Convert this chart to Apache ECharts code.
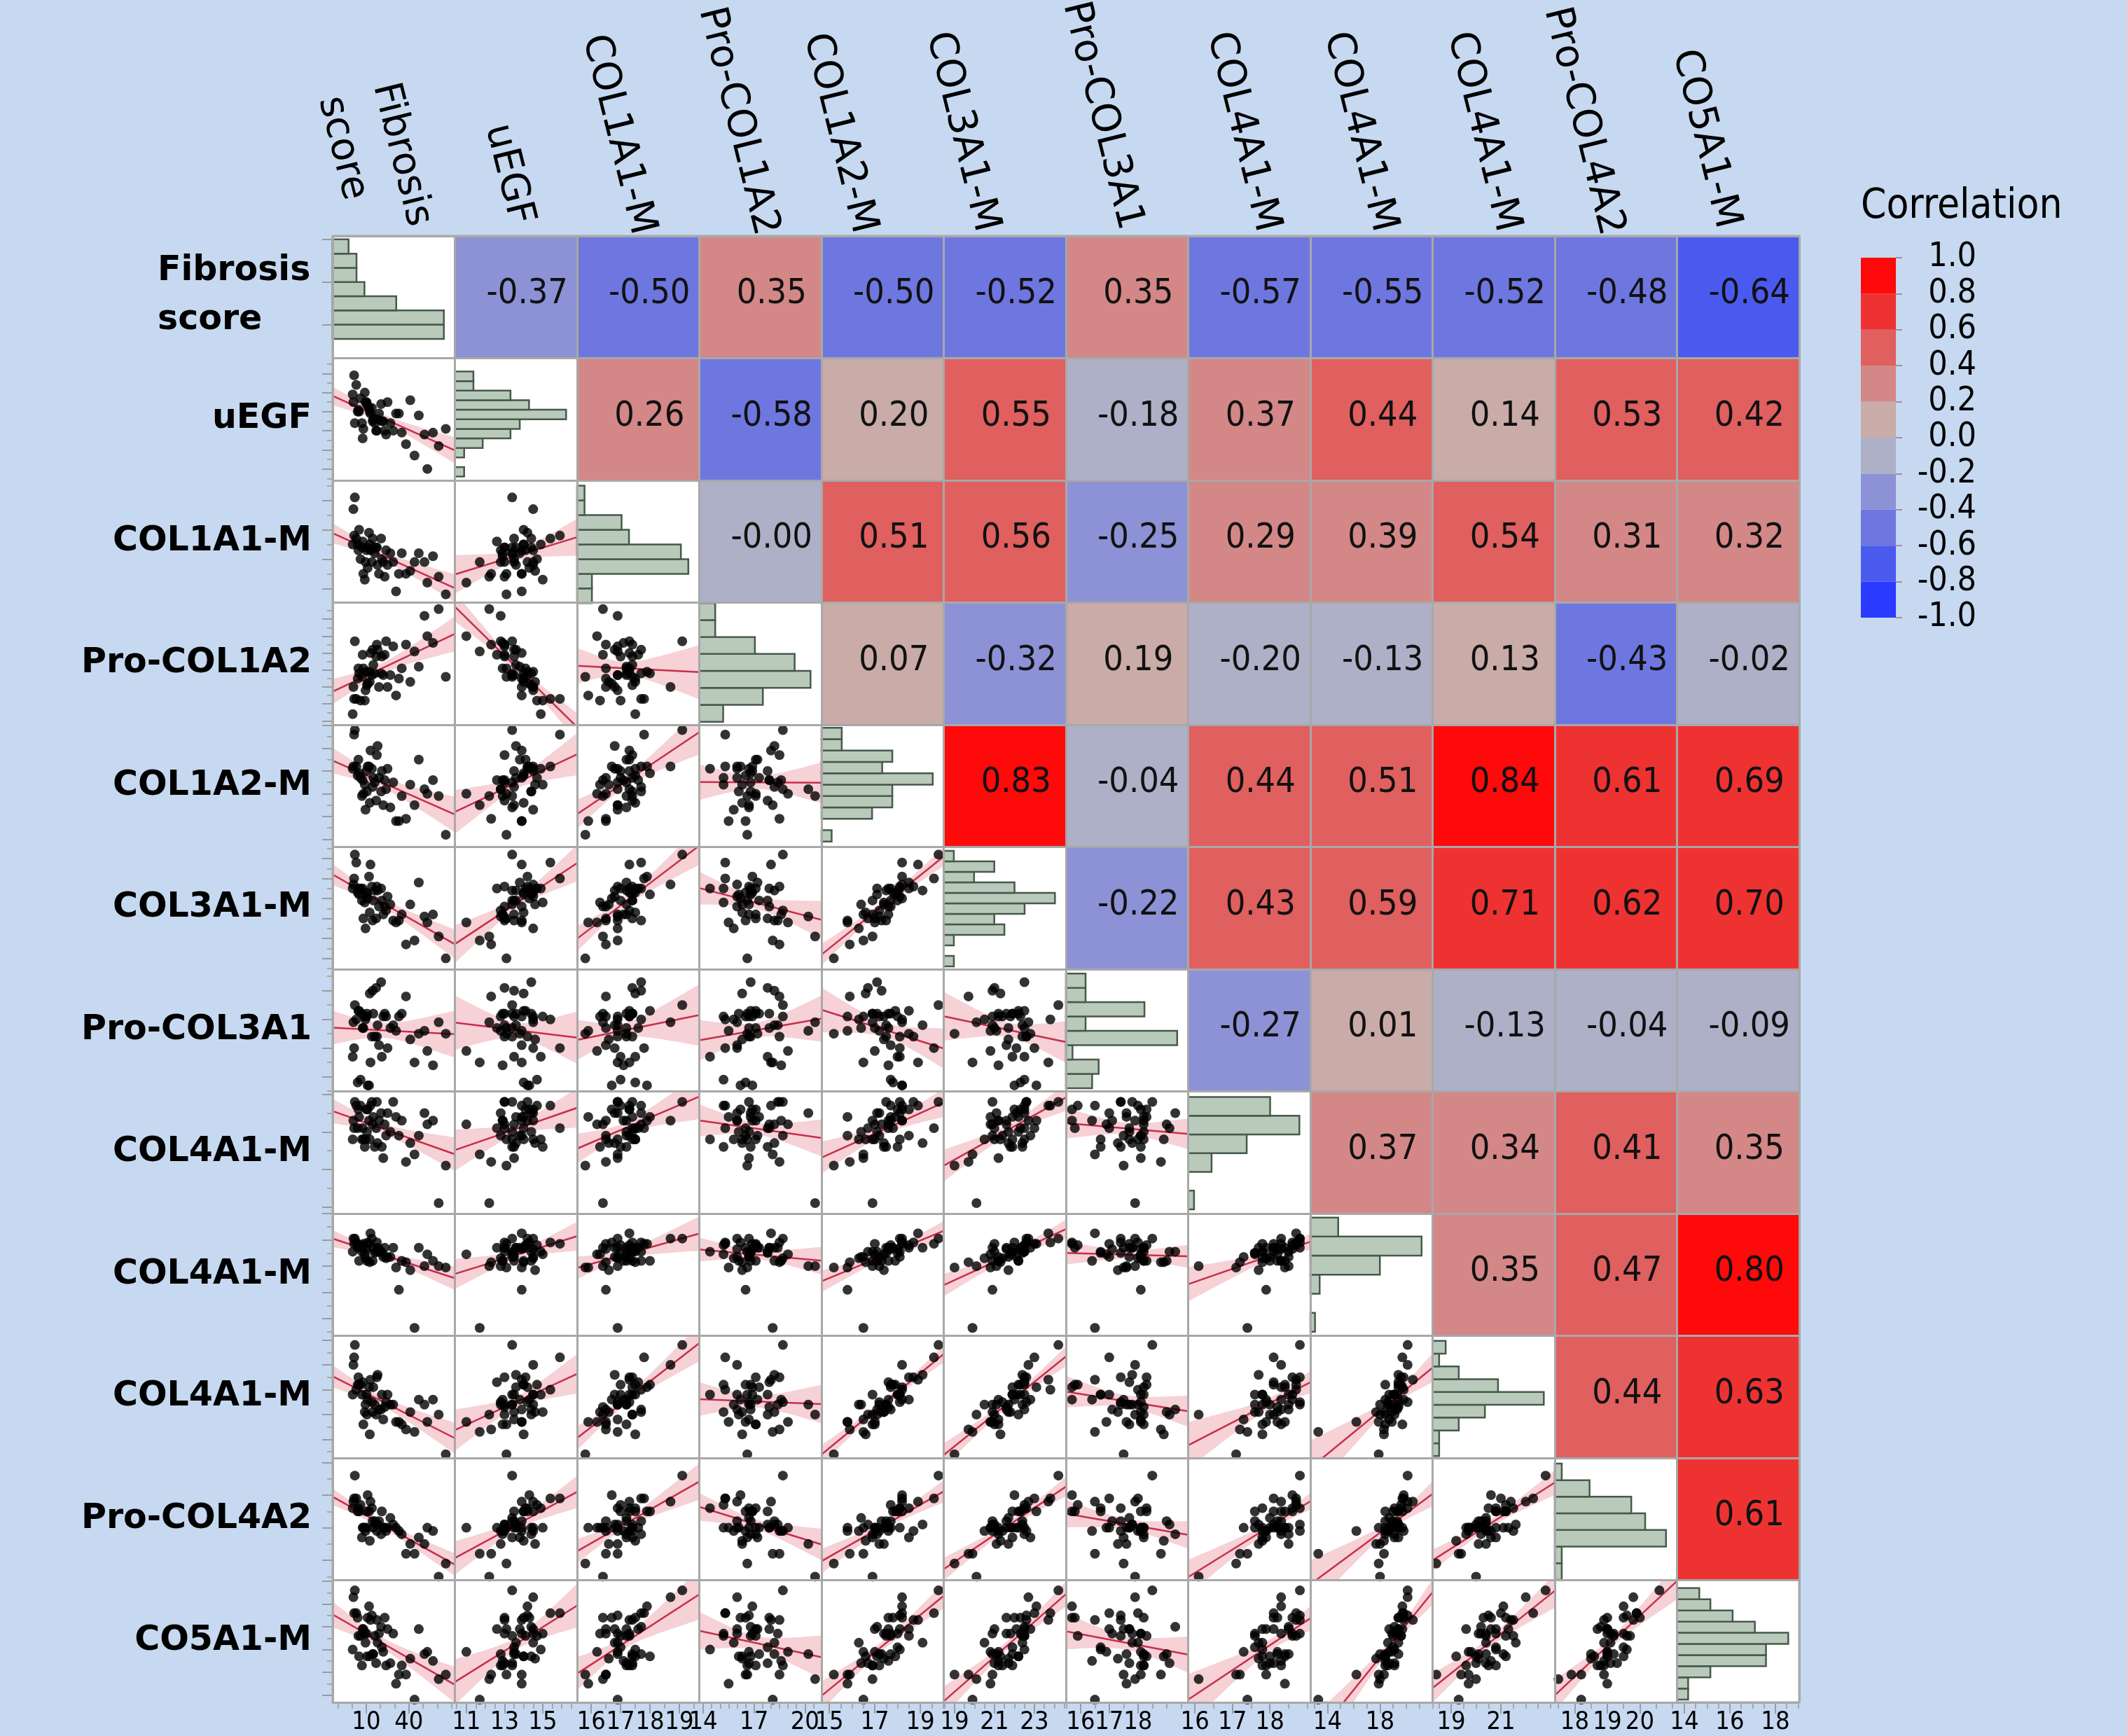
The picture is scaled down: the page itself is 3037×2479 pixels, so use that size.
<!DOCTYPE html>
<html>
<head>
<meta charset="utf-8">
<title>Scatterplot matrix</title>
<script src="https://cdn.jsdelivr.net/npm/echarts@6/dist/echarts.min.js"></script>
<style>
html, body { margin: 0; padding: 0; background: #c6d9f0; }
#chart { width: 3037px; height: 2479px; }
</style>
</head>
<body>
<div id="chart"></div>
<script>
var names = ['Fibrosis score', 'uEGF', 'COL1A1-M', 'Pro-COL1A2', 'COL1A2-M', 'COL3A1-M',
	'Pro-COL3A1', 'COL4A1-M', 'COL4A1-M', 'COL4A1-M', 'Pro-COL4A2', 'CO5A1-M'];

// one value per patient, same patient order in every list
var fibrosis = [66, 38, 31, 44, 33, 12.5, 61, 22, 53, 9.5, 35, 41, 17, 51, 8, 27, 9, 57, 10.5, 29,
	7, 19, 16, 14.5, 25, 24, 6, 23, 0.5, 20.5, 21, 15, 11, 7.5, 10.2, 47, 5, 14, 4, 4.5,
	12, 18, 3, 17.5, 1, 13, 1.5, 2];
var uegf = [13.1, 12.3, 13.9, 11.7, 13.9, 14.0, 12.2, 13.5, 11.0, 14.5, 12.9, 14.6, 13.0, 12.8, 13.1, 13.4, 15.0, 12.9, 14.4, 13.0,
	13.4, 13.9, 13.4, 13.5, 14.5, 12.8, 14.7, 13.0, 14.9, 14.4, 13.5, 13.6, 14.3, 12.6, 14.5, 13.8, 14.0, 14.2, 14.0, 14.1,
	14.2, 13.6, 15.4, 13.0, 14.5, 13.9, 15.9, 13.4];
var col1a1 = [15.8, 16.5, 15.9, 16.9, 16.5, 17.5, 16.4, 16.9, 16.2, 16.9, 17.2, 16.6, 17.4, 16.9, 16.5, 17.2, 16.3, 17.1, 17.4, 16.9,
	17.4, 16.5, 17.2, 17.7, 16.8, 17.3, 17.0, 16.4, 17.5, 17.7, 17.0, 17.4, 16.7, 17.6, 17.3, 17.2, 18.0, 16.9, 17.5, 17.3,
	17.9, 16.8, 17.7, 17.4, 18.7, 17.3, 17.8, 19.1];
var procol1a2 = [16.6, 18.5, 15.5, 18.1, 16.5, 16.3, 20.6, 16.7, 19.0, 15.8, 17.1, 16.3, 17.8, 20.2, 17.1, 16.7, 15.2, 18.6, 16.1, 18.4,
	16.6, 16.0, 16.8, 18.2, 16.0, 18.7, 15.2, 17.9, 14.4, 16.8, 17.8, 17.3, 16.2, 17.9, 16.9, 17.2, 16.8, 16.7, 16.5, 17.1,
	16.9, 18.2, 15.3, 18.5, 16.0, 18.0, 15.3, 18.7];
var col1a2 = [15.2, 15.9, 15.8, 16.5, 15.8, 16.6, 16.9, 16.5, 17.0, 16.3, 16.9, 17.4, 16.7, 17.2, 17.0, 16.4, 17.4, 17.6, 17.1, 17.5,
	16.9, 17.7, 17.5, 17.3, 18.1, 17.2, 17.7, 17.6, 18.1, 17.1, 18.0, 17.7, 18.2, 17.6, 18.0, 18.5, 17.9, 18.1, 17.8, 18.5,
	18.2, 19.1, 18.2, 18.7, 18.2, 18.9, 19.6, 19.8];
var col3a1 = [19.0, 19.7, 20.8, 19.9, 20.9, 21.3, 20.1, 21.2, 20.8, 20.5, 21.2, 21.7, 21.0, 21.1, 21.0, 21.7, 21.8, 21.2, 22.2, 20.9,
	21.9, 21.6, 22.4, 20.9, 22.1, 21.4, 22.5, 21.6, 22.5, 22.5, 21.9, 21.9, 22.0, 22.5, 22.3, 22.8, 22.2, 22.6, 22.3, 22.5,
	23.1, 22.4, 23.8, 22.6, 22.7, 23.7, 23.0, 24.2];
var procol3a1 = [17.5, 18.8, 17.6, 16.5, 18.1, 18.9, 17.9, 18.1, 16.9, 18.0, 18.2, 17.3, 19.1, 17.6, 17.7, 17.7, 18.1, 16.4, 18.2, 17.8,
	18.2, 17.1, 17.4, 19.0, 17.0, 18.1, 15.9, 18.2, 16.7, 19.3, 16.7, 18.2, 15.7, 17.7, 18.1, 17.5, 18.3, 17.4, 15.8, 18.3,
	15.7, 17.8, 18.0, 17.4, 17.9, 16.5, 17.0, 18.5];
var col4a1a = [17.1, 17.2, 18.4, 17.4, 17.9, 17.8, 16.1, 17.3, 18.2, 17.8, 18.3, 17.7, 18.1, 18.5, 17.8, 18.0, 17.6, 18.3, 18.0, 18.8,
	17.8, 18.3, 17.6, 18.2, 18.5, 17.9, 18.7, 18.2, 17.8, 18.5, 17.6, 18.4, 18.6, 18.1, 18.6, 17.9, 18.4, 18.8, 18.1, 18.6,
	18.3, 17.7, 18.7, 18.8, 18.3, 18.7, 18.1, 18.8];
var col4a1b = [17.9, 18.3, 17.9, 13.3, 16.2, 18.3, 18.0, 18.7, 18.9, 18.6, 18.4, 17.7, 19.1, 18.0, 19.7, 18.7, 18.9, 18.4, 18.4, 19.4,
	19.1, 19.3, 19.0, 18.4, 18.7, 18.6, 19.6, 19.4, 19.1, 19.1, 19.0, 19.4, 19.8, 19.4, 19.3, 19.4, 18.4, 20.1, 19.4, 19.6,
	19.7, 19.4, 19.8, 19.8, 20.1, 20.5, 19.7, 20.1];
var col4a1c = [18.4, 19.4, 19.7, 19.3, 19.7, 19.2, 20.0, 19.8, 19.7, 20.4, 19.6, 20.1, 20.0, 20.4, 19.6, 20.4, 20.1, 20.6, 20.0, 20.4,
	20.8, 20.2, 20.4, 20.1, 20.8, 20.5, 21.2, 20.3, 20.8, 20.2, 20.8, 21.1, 20.6, 21.3, 20.8, 20.6, 21.2, 20.5, 21.2, 21.5,
	21.1, 21.6, 21.0, 21.5, 22.0, 21.4, 22.3, 22.8];
var procol4a2 = [17.9, 18.2, 19.0, 18.2, 18.9, 18.6, 17.5, 19.0, 19.0, 18.9, 18.8, 18.5, 19.1, 18.5, 19.0, 19.3, 19.0, 18.9, 19.0, 19.1,
	18.7, 19.2, 19.2, 19.2, 19.0, 18.9, 19.7, 19.0, 19.6, 18.8, 19.5, 19.0, 20.0, 19.0, 19.5, 18.7, 19.5, 19.6, 19.5, 19.6,
	19.5, 19.1, 19.9, 18.9, 19.8, 19.8, 19.9, 20.6];
var co5a1 = [14.9, 14.9, 14.5, 13.8, 14.9, 15.7, 14.7, 15.9, 15.9, 16.3, 15.3, 15.6, 15.4, 15.8, 16.9, 15.4, 16.7, 15.5, 15.7, 16.7,
	15.3, 16.7, 16.6, 15.8, 16.9, 15.3, 16.6, 17.4, 16.0, 17.0, 16.1, 15.8, 17.4, 16.9, 16.7, 16.9, 15.7, 17.5, 17.4, 16.6,
	17.9, 16.3, 17.6, 17.3, 18.3, 17.3, 17.6, 18.6];

// axis extent of each variable, and the labelled ticks on the bottom
var axisMin = [-13.6, 10.4, 15.52, 13.77, 14.66, 18.46, 15.49, 15.82, 12.7, 18.25, 17.39, 13.68];
var axisMax = [72.4, 16.8, 19.68, 20.98, 20.03, 24.58, 19.75, 19.08, 22.0, 23.17, 21.14, 19.05];
var tickLabels = [[10, 40], [11, 13, 15], [16, 17, 18, 19], [14, 17, 20], [15, 17, 19], [19, 21, 23],
	[16, 17, 18], [16, 17, 18], [14, 18], [19, 21], [18, 19, 20], [14, 16, 18]];
var minorStep = [10, 0.5, 0.5, 0.5, 0.5, 0.5, 0.5, 0.5, 1, 0.5, 0.5, 0.5];

// histograms on the diagonal: first bin edge, bin width, counts from the bottom up
var binStart = [0, 10.6, 15.5, 13.95, 14.9, 18.6, 15.6, 15.93, 13.0, 18.33, 17.4, 13.8];
var binWidth = [10, 0.5, 0.5, 1.0, 0.5, 0.526, 0.5, 0.5, 1.45, 0.515, 0.51, 0.49];
var binCounts = [
	[14, 14, 8, 4, 3, 3, 2],
	[1, 0, 1, 3, 6, 7, 12, 8, 6, 2, 2],
	[2, 2, 15, 14, 7, 6, 1, 1],
	[3, 8, 14, 12, 7, 2, 2],
	[1, 0, 5, 7, 7, 11, 6, 7, 2, 2],
	[1, 0, 1, 6, 5, 8, 11, 7, 3, 5, 1],
	[4, 5, 1, 17, 3, 12, 3, 3],
	[1, 0, 4, 10, 19, 14],
	[1, 0, 2, 15, 24, 6],
	[1, 1, 4, 8, 17, 10, 4, 1, 2],
	[1, 1, 16, 13, 11, 5, 1],
	[1, 1, 3, 8, 8, 10, 7, 5, 3, 2]
];

// correlations, upper triangle, row by row
var corrRows = [
	[-0.37, -0.50, 0.35, -0.50, -0.52, 0.35, -0.57, -0.55, -0.52, -0.48, -0.64],
	[0.26, -0.58, 0.198, 0.55, -0.18, 0.37, 0.44, 0.14, 0.53, 0.42],
	[-0.002, 0.51, 0.56, -0.25, 0.29, 0.39, 0.54, 0.31, 0.32],
	[0.07, -0.32, 0.19, -0.198, -0.13, 0.13, -0.43, -0.02],
	[0.83, -0.04, 0.44, 0.51, 0.84, 0.61, 0.69],
	[-0.22, 0.43, 0.59, 0.71, 0.62, 0.70],
	[-0.27, 0.01, -0.13, -0.04, -0.09],
	[0.37, 0.34, 0.41, 0.35],
	[0.35, 0.47, 0.802],
	[0.44, 0.63],
	[0.61]
];

var bandEdges = [-1, -0.8, -0.6, -0.4, -0.2, 0, 0.2, 0.4, 0.6, 0.8, 1];
var bandColors = ['#2a3aff', '#4b5aee', '#6e77e0', '#8d91d5', '#aeb0c8', '#c9aba8', '#d48787', '#e05f5f', '#ee3232', '#ff0a0a'];

var vars = [fibrosis, uegf, col1a1, procol1a2, col1a2, col3a1, procol3a1, col4a1a, col4a1b, col4a1c, procol4a2, co5a1];

var X0 = 475, Y0 = 337, CELL = 174.5, N = 12;
var COND = "'DejaVu Sans Condensed', 'Liberation Sans Narrow', 'DejaVu Sans', sans-serif";
var GRID_LINE = '#a8a8a8';
var NO_LINE = { show: false, onZero: false };

function multiples(lo, hi, st) {
	var out = [];
	for (var v = Math.ceil(lo / st - 1e-9) * st; v <= hi + 1e-9; v += st) out.push(+v.toFixed(4));
	return out;
}

function fitLine(xs, ys) {
	var n = xs.length, mx = 0, my = 0;
	xs.forEach(function (v, k) { mx += v; my += ys[k]; });
	mx /= n; my /= n;
	var sxx = 0, sxy = 0, sse = 0;
	xs.forEach(function (v, k) { sxx += (v - mx) * (v - mx); sxy += (v - mx) * (ys[k] - my); });
	var b = sxy / sxx, a = my - b * mx;
	xs.forEach(function (v, k) { var r = ys[k] - a - b * v; sse += r * r; });
	return { a: a, b: b, mx: mx, sxx: sxx, s: Math.sqrt(sse / (n - 2)), n: n };
}

var grids = [], xAxes = [], yAxes = [], series = [], graphics = [];

// big grid: white cells, borders and the heat map
grids.push({ left: X0, top: Y0, width: CELL * N, height: CELL * N, show: true,
	backgroundColor: '#fff', borderColor: GRID_LINE, borderWidth: 3 });
var catAxis = {
	gridIndex: 0, type: 'category', data: names.map(function (d, i) { return i; }), z: 20,
	axisLine: NO_LINE, axisTick: { show: false }, axisLabel: { show: false },
	splitLine: { show: true, interval: 0, lineStyle: { color: GRID_LINE, width: 3 } }
};
xAxes.push(catAxis);
yAxes.push(Object.assign({}, catAxis, { inverse: true }));

var heat = [];
corrRows.forEach(function (row, i) {
	row.forEach(function (r, m) { heat.push([i + 1 + m, i, r]); });
});
series.push({
	type: 'heatmap', xAxisIndex: 0, yAxisIndex: 0, data: heat,
	itemStyle: { borderColor: GRID_LINE, borderWidth: 1.5 },
	label: {
		show: true, fontSize: 50, fontFamily: COND, color: '#111', offset: [16, -4],
		formatter: function (p) { return p.value[2].toFixed(2); }
	}
});

// colour legend
grids.push({ left: 2657, top: 368, width: 50, height: 514 });
xAxes.push({ gridIndex: 1, type: 'category', data: ['r'], show: false });
yAxes.push({
	gridIndex: 1, type: 'value', min: -1, max: 1, interval: 0.2, position: 'right',
	axisLine: NO_LINE, splitLine: { show: false },
	axisTick: { show: true, length: 9, lineStyle: { color: '#a88aa8', width: 2 } },
	axisLabel: {
		fontSize: 48, fontFamily: COND, color: '#000', align: 'right', margin: 115,
		showMinLabel: true, showMaxLabel: true, hideOverlap: false,
		formatter: function (v) { return (Math.abs(v) < 1e-9 ? 0 : v).toFixed(1); }
	}
});
series.push({
	type: 'custom', xAxisIndex: 1, yAxisIndex: 1,
	data: bandColors.map(function (c, b) { return [0, bandEdges[b], bandEdges[b + 1], b]; }),
	encode: { x: 0, y: [1, 2] },
	renderItem: function (params, api) {
		var top = api.coord([0, api.value(2)])[1], bottom = api.coord([0, api.value(1)])[1];
		var cs = params.coordSys;
		return { type: 'rect', shape: { x: cs.x, y: top, width: cs.width, height: bottom - top },
			style: { fill: bandColors[api.value(3)] } };
	}
});

// one small grid per lower / diagonal cell
for (var i = 0; i < N; i++) {
	for (var j = 0; j <= i; j++) {
		var gi = grids.length;
		grids.push({ left: X0 + j * CELL, top: Y0 + i * CELL, width: CELL, height: CELL });
		var xi = xAxes.length, yi = yAxes.length;
		var counts = binCounts[i];
		if (i === j) {
			xAxes.push({ gridIndex: gi, type: 'value', min: 0, max: Math.max.apply(null, counts) / 0.91, show: false,
				axisLine: NO_LINE });
		} else {
			xAxes.push({ gridIndex: gi, type: 'value', min: axisMin[j], max: axisMax[j], show: false, axisLine: NO_LINE });
		}
		yAxes.push({ gridIndex: gi, type: 'value', min: axisMin[i], max: axisMax[i], show: false, axisLine: NO_LINE });

		if (i === j) {
			series.push({
				type: 'custom', xAxisIndex: xi, yAxisIndex: yi,
				data: counts.map(function (c, b) {
					return [binStart[i] + b * binWidth[i], binStart[i] + (b + 1) * binWidth[i], c];
				}),
				encode: { x: 2, y: [0, 1] },
				renderItem: function (params, api) {
					if (!api.value(2)) return null;
					var p0 = api.coord([0, api.value(1)]), p1 = api.coord([api.value(2), api.value(0)]);
					return { type: 'rect', shape: { x: p0[0], y: p0[1], width: p1[0] - p0[0], height: p1[1] - p0[1] },
						style: { fill: '#bacaba', stroke: '#46594b', lineWidth: 2.5 } };
				}
			});
		} else {
			var xs = vars[j], ys = vars[i];
			var f = fitLine(xs, ys), up = [], lo = [];
			for (var s = 0; s <= 40; s++) {
				var xv = axisMin[j] + (axisMax[j] - axisMin[j]) * s / 40;
				var yv = f.a + f.b * xv;
				var se = 2.013 * f.s * Math.sqrt(1 / f.n + (xv - f.mx) * (xv - f.mx) / f.sxx);
				up.push([xv, yv + se]);
				lo.push([xv, yv - se]);
			}
			series.push({ type: 'line', xAxisIndex: xi, yAxisIndex: yi, data: up, symbol: 'none', silent: true, z: 1,
				lineStyle: { opacity: 0 }, areaStyle: { color: '#f6d1d6', opacity: 1, origin: 'start' } });
			series.push({ type: 'line', xAxisIndex: xi, yAxisIndex: yi, data: lo, symbol: 'none', silent: true, z: 1,
				lineStyle: { opacity: 0 }, areaStyle: { color: '#ffffff', opacity: 1, origin: 'start' } });
			series.push({ type: 'line', xAxisIndex: xi, yAxisIndex: yi, symbol: 'none', silent: true, z: 3,
				data: [[axisMin[j], f.a + f.b * axisMin[j]], [axisMax[j], f.a + f.b * axisMax[j]]],
				lineStyle: { color: '#c62f4b', width: 2.5 } });
			series.push({ type: 'scatter', xAxisIndex: xi, yAxisIndex: yi, symbolSize: 14, z: 4,
				itemStyle: { color: '#000' },
				data: xs.map(function (v, k) { return [v, ys[k]]; }) });
		}

		// bottom tick marks and labels, one axis per label so none gets hidden
		if (i === N - 1) {
			var major = tickLabels[j];
			var minor = multiples(axisMin[j], axisMax[j], minorStep[j]).filter(function (v) { return major.indexOf(v) < 0; });
			major.forEach(function (v) {
				xAxes.push({ gridIndex: gi, type: 'value', min: axisMin[j], max: axisMax[j], position: 'bottom', z: 10,
					axisLine: NO_LINE, splitLine: { show: false },
					axisTick: { show: true, customValues: [v], length: 16, lineStyle: { color: '#9c9c9c', width: 2 } },
					axisLabel: { show: true, customValues: [v], hideOverlap: false, fontSize: 36, fontFamily: COND,
						color: '#000', margin: 11 } });
			});
			xAxes.push({ gridIndex: gi, type: 'value', min: axisMin[j], max: axisMax[j], position: 'bottom', z: 10,
				axisLine: NO_LINE, splitLine: { show: false }, axisLabel: { show: false },
				axisTick: { show: true, customValues: minor, length: 9, lineStyle: { color: '#a8a8a8', width: 2 } } });
		}
		// left tick marks
		if (j === 0) {
			var lmaj = i === 0 ? [10, 40, 70] : multiples(axisMin[i], axisMax[i], i === 8 ? 2 : 1);
			var lmin = i === 0 ? [] : multiples(axisMin[i], axisMax[i], i === 8 ? 1 : 0.5).filter(function (v) { return lmaj.indexOf(v) < 0; });
			yAxes.push({ gridIndex: gi, type: 'value', min: axisMin[i], max: axisMax[i], position: 'left', z: 10,
				axisLine: NO_LINE, splitLine: { show: false }, axisLabel: { show: false },
				axisTick: { show: true, customValues: lmaj, length: 15, lineStyle: { color: '#9c9c9c', width: 2 } } });
			yAxes.push({ gridIndex: gi, type: 'value', min: axisMin[i], max: axisMax[i], position: 'left', z: 10,
				axisLine: NO_LINE, splitLine: { show: false }, axisLabel: { show: false },
				axisTick: { show: true, customValues: lmin, length: 8, lineStyle: { color: '#a8a8a8', width: 2 } } });
		}
	}
}

// row names on the left
names.forEach(function (name, i) {
	var cy = Y0 + CELL * (i + 0.5);
	if (i === 0) {
		graphics.push({ type: 'text', x: 225, y: cy - 2, style: { text: 'Fibrosis\nscore', x: 0, y: 0,
			align: 'left', verticalAlign: 'middle', lineHeight: 70,
			font: 'bold 49px "DejaVu Sans"', fill: '#000' } });
	} else {
		graphics.push({ type: 'text', x: 445, y: cy, style: { text: name, x: 0, y: 0,
			align: 'right', verticalAlign: 'middle', font: 'bold 49px "DejaVu Sans"', fill: '#000' } });
	}
});

// column names on top, turned so they read downwards
var colLabelEnd = [[509, 129], [705, 330], [879, 344], [1055, 345], [1195, 342], [1370, 340],
	[1575, 337], [1771, 340], [1938, 340], [2114, 340], [2262, 345], [2428, 335]];
var ROT = -76 * Math.PI / 180;
names.forEach(function (name, j) {
	var p = colLabelEnd[j];
	graphics.push({ type: 'text', x: p[0], y: p[1], rotation: ROT, style: {
		text: j === 0 ? 'Fibrosis\nscore' : name, x: 0, y: 0,
		align: j === 0 ? 'left' : 'right', verticalAlign: j === 0 ? 'middle' : 'bottom', lineHeight: 80,
		font: '56px "DejaVu Sans"', fill: '#000' } });
});

graphics.push({ type: 'text', x: 2657, y: 296, style: { text: 'Correlation', x: 0, y: 0,
	align: 'left', verticalAlign: 'middle', font: "58px 'DejaVu Sans Condensed', 'DejaVu Sans'", fill: '#000' } });

var pieces = bandColors.map(function (c, b) {
	var pc = { gte: bandEdges[b], color: c };
	if (b === bandColors.length - 1) pc.lte = bandEdges[b + 1]; else pc.lt = bandEdges[b + 1];
	return pc;
});

var chart = echarts.init(document.getElementById('chart'));
chart.setOption({
	backgroundColor: '#c6d9f0',
	animation: false,
	grid: grids,
	xAxis: xAxes,
	yAxis: yAxes,
	visualMap: { type: 'piecewise', show: false, seriesIndex: 0, dimension: 2, pieces: pieces },
	graphic: graphics,
	series: series
});
</script>
</body>
</html>
